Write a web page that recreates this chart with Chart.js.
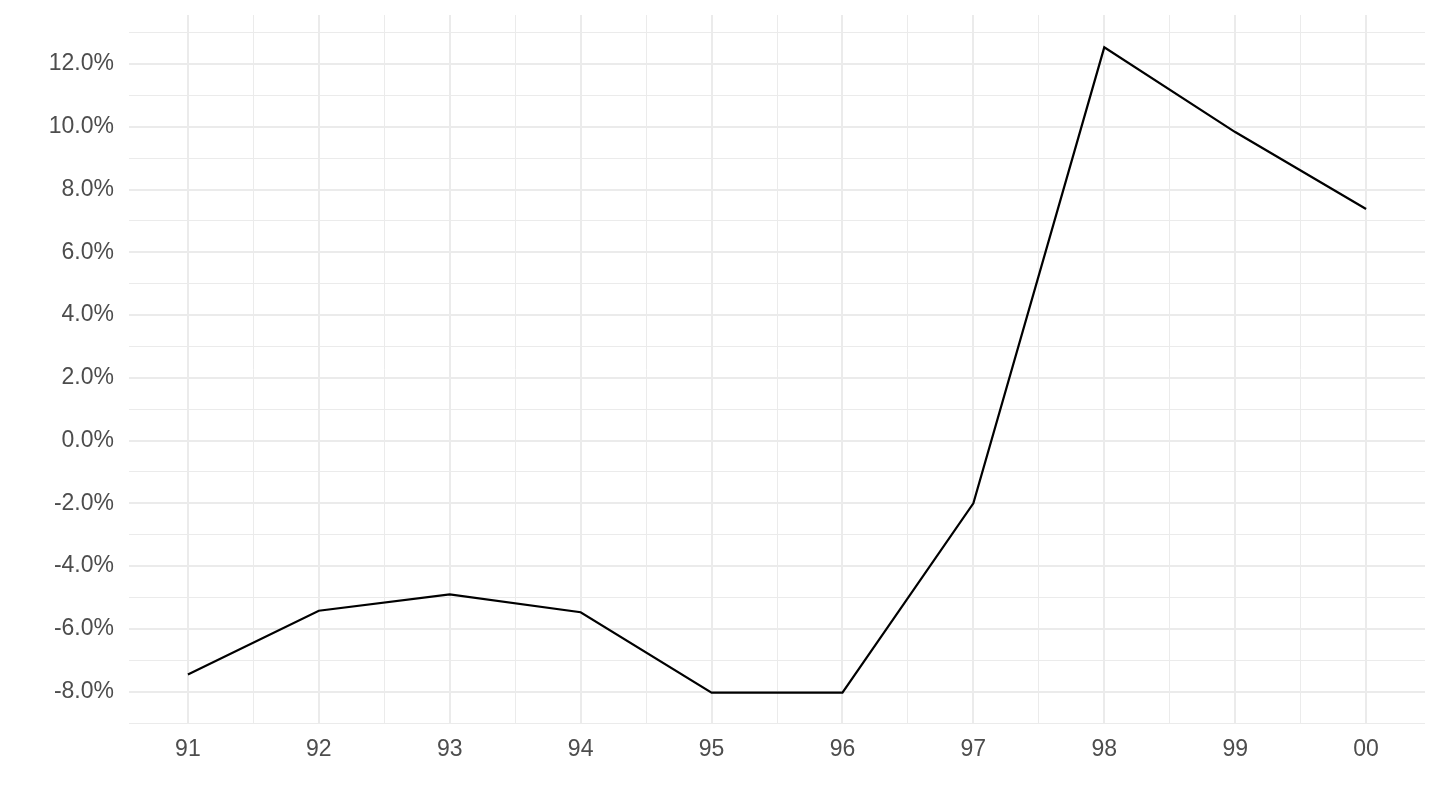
<!DOCTYPE html>
<html>
<head>
<meta charset="utf-8">
<script src="https://cdn.jsdelivr.net/npm/chart.js@4.4.1/dist/chart.umd.min.js"></script>
<style>
  html, body { margin: 0; padding: 0; background: #fff; }
  #wrap { width: 1440px; height: 810px; position: relative; }
</style>
</head>
<body>
<div id="wrap"><canvas id="growthChart"></canvas></div>
<script>
const years = ['91', '92', '93', '94', '95', '96', '97', '98', '99', '00'];
const growth = [-7.45, -5.42, -4.90, -5.47, -8.03, -8.03, -2.00, 12.53, 9.83, 7.38];

// ticks: majors carry labels, minors are just grid lines
const yTicks = [-9, -8, -7, -6, -5, -4, -3, -2, -1, 0, 1, 2, 3, 4, 5, 6, 7, 8, 9, 10, 11, 12, 13];
const xTicks = [0, 0.5, 1, 1.5, 2, 2.5, 3, 3.5, 4, 4.5, 5, 5.5, 6, 6.5, 7, 7.5, 8, 8.5, 9];

const gridColor = '#ebebeb';
const textColor = '#4d4d4d';

Chart.defaults.font.family = "'Liberation Sans', Arial, sans-serif";
Chart.defaults.color = textColor;

const points = growth.map((v, i) => ({ x: i, y: v }));

new Chart(document.getElementById('growthChart').getContext('2d'), {
    type: 'line',
    data: {
        datasets: [{
            data: points,
            borderColor: '#000000',
            borderWidth: 2.2,
            pointRadius: 0,
            fill: false,
            tension: 0
        }]
    },
    options: {
        responsive: true,
        maintainAspectRatio: false,
        animation: false,
        layout: { padding: { top: 15, right: 15, left: 0, bottom: 0 } },
        plugins: {
            legend: { display: false },
            tooltip: { enabled: false }
        },
        scales: {
            x: {
                type: 'linear',
                min: -0.45,
                max: 9.45,
                afterBuildTicks: axis => { axis.ticks = xTicks.map(v => ({ value: v })); },
                afterFit: axis => {
                    axis.height = 86;
                    axis.paddingLeft = 0;
                    axis.paddingRight = 0;
                },
                border: { display: false },
                grid: {
                    drawTicks: false,
                    color: gridColor,
                    lineWidth: ctx => Number.isInteger(ctx.tick.value) ? 2 : 1
                },
                ticks: {
                    autoSkip: false,
                    maxRotation: 0,
                    padding: 12,
                    font: { size: 23 },
                    color: textColor,
                    callback: v => Number.isInteger(v) ? years[v] : ''
                }
            },
            y: {
                type: 'linear',
                min: -9.03,
                max: 13.56,
                afterBuildTicks: axis => { axis.ticks = yTicks.map(v => ({ value: v })); },
                afterFit: axis => {
                    axis.width = 129;
                    axis.paddingTop = 0;
                    axis.paddingBottom = 0;
                },
                border: { display: false },
                grid: {
                    drawTicks: false,
                    color: gridColor,
                    lineWidth: ctx => ctx.tick.value % 2 === 0 ? 2 : 1
                },
                ticks: {
                    autoSkip: false,
                    padding: 15,
                    font: { size: 23 },
                    color: textColor,
                    callback: v => v % 2 === 0 ? v.toFixed(1) + '%' : ''
                }
            }
        }
    }
});
</script>
</body>
</html>
